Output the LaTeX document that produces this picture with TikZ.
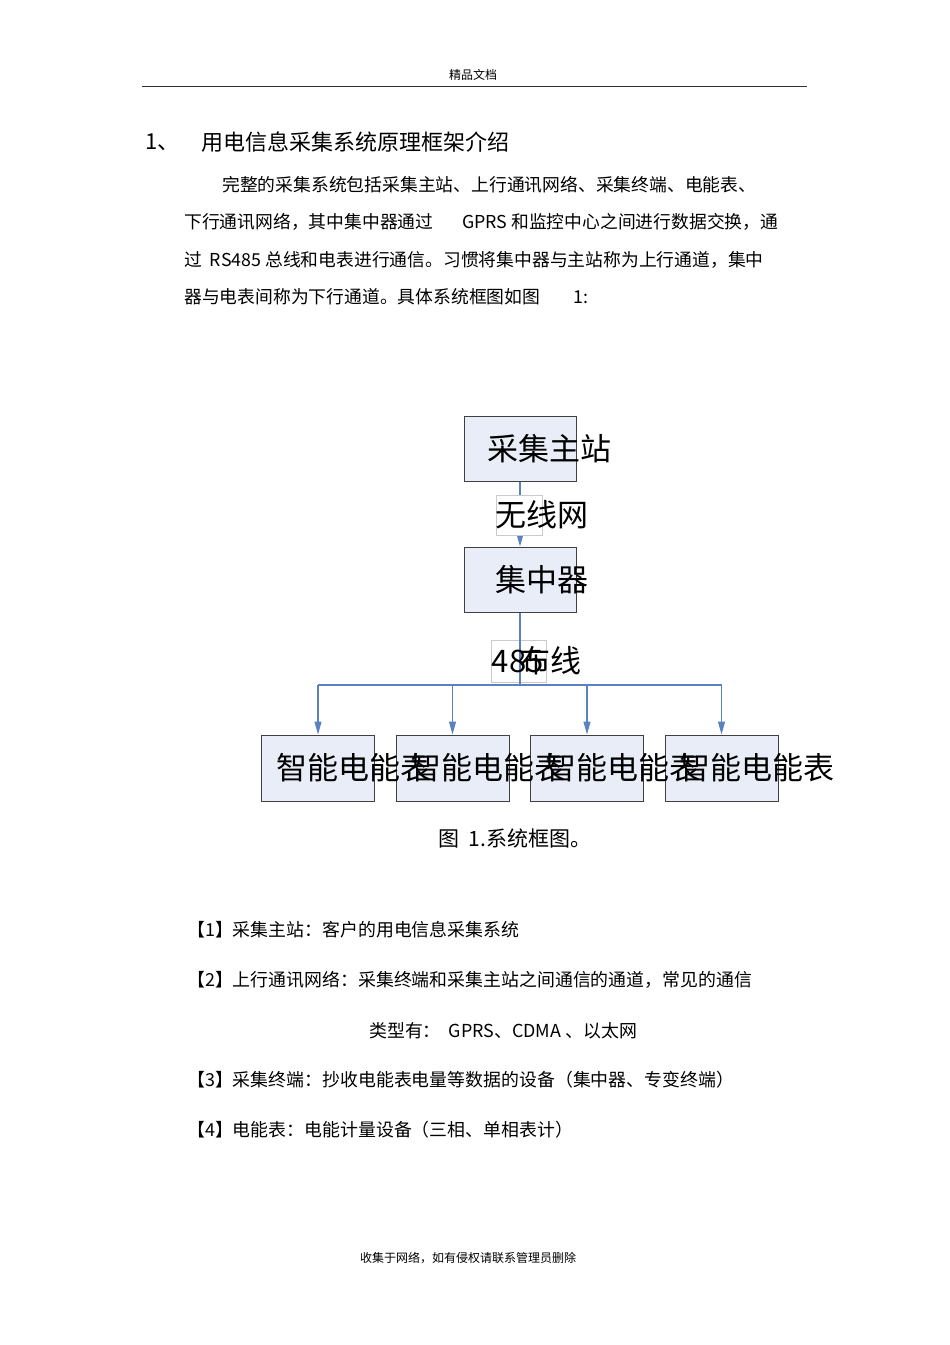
\documentclass[tikz,border=0pt]{standalone}
\usepackage{fontspec}
\setmainfont{Noto Sans CJK SC}
\usetikzlibrary{arrows.meta,positioning}
\definecolor{boxfill}{HTML}{E9EDF7}
\definecolor{boxline}{HTML}{404040}
\definecolor{linkblue}{HTML}{5B82C0}
\definecolor{tagline}{HTML}{CACACA}
\tikzset{
        blk_box/.style={draw=boxline, fill=boxfill, line width=1pt,
                        minimum width=112pt, minimum height=65pt, inner sep=0pt},
        blk_text/.style={anchor=west, inner sep=0pt, font=\fontsize{31}{31}\selectfont},
        tag_box/.style={draw=tagline, line width=0.6pt, minimum width=46pt,
                        minimum height=40pt, inner sep=0pt},
        link/.style={draw=linkblue, line width=1.2pt},
        link_arr/.style={link, -{Triangle[width=7pt,length=13pt]}},
        body_text/.style={anchor=west, inner sep=0pt, font=\fontsize{17.8}{18}\selectfont},
        list_text/.style={anchor=west, inner sep=0pt, font=\fontsize{17.9}{18}\selectfont},
        small_text/.style={inner sep=0pt, font=\fontsize{12}{12}\selectfont}
    }

\begin{document}
\begin{tikzpicture}[x=1pt, y=-1pt]
    \useasboundingbox[fill=white] (0,0) rectangle (950,1345);
    % page header
    \node[small_text] (hdr) at (473,75) {精品文档};
    \draw[line width=1pt, black!80] (142,86) -- (807,86);
    % heading and text
    \node[body_text, font=\fontsize{22}{22}\selectfont] (num) at (145,142) {1、};
    \node[body_text, font=\fontsize{22}{22}\selectfont] (title) at (201,142) {用电信息采集系统原理框架介绍};
    \node[body_text] (p1) at (222,185) {完整的采集系统包括采集主站、上行通讯网络、采集终端、电能表、};
    \node[body_text] (p2a) at (184,222) {下行通讯网络，其中集中器通过};
    \node[body_text] (p2b) at (462,222) {GPRS 和监控中心之间进行数据交换，通};
    \node[body_text] (p3) at (184,260) {过\ \ RS485 总线和电表进行通信。习惯将集中器与主站称为上行通道，集中};
    \node[body_text] (p4a) at (184,297) {器与电表间称为下行通道。具体系统框图如图};
    \node[body_text] (p4b) at (573,297) {1:};
    % diagram
    \node[blk_box] (zz) at (520,448.5) {};
    \node[blk_box] (jzq) at (520,579.5) {};
    \foreach \i/\x in {1/318,2/452.5,3/587,4/721.5}
        \node[blk_box, minimum width=113pt, minimum height=66pt] (m\i) at (\x,768) {};
    \draw[link_arr] (zz.south) -- (jzq.north);
    \node[tag_box, fill=white] (wx) at (519,515) {};
    \node[tag_box, minimum width=55pt, minimum height=42pt] (bx) at (518.5,661) {};
    \coordinate (bus) at (520,685);
    \draw[link] (jzq.south) -- (bus);
    \draw[link] (bus -| m1) -- (bus -| m4);
    \foreach \i in {1,...,4}
        \draw[link_arr] (bus -| m\i) -- (m\i.north);
    \node[blk_text] (zz_t) at ([xshift=24pt]zz.west) {采集主站};
    \node[blk_text] (jzq_t) at ([xshift=32pt]jzq.west) {集中器};
    \node[blk_text] (wx_t) at ([xshift=0pt]wx.west) {无线网};
    \node[blk_text] (bx_t) at ([xshift=1pt]bx.west) {485\kern-24pt 布线};
    \foreach \i in {1,...,4}
        \node[blk_text] (m\i_t) at ([xshift=15pt]m\i.west) {智能电能表};
    \node[body_text, font=\fontsize{21}{21}\selectfont] (cap) at (438,838) {图\ \ 1.系统框图。};
    % notes
    \node[list_text] (it1) at (187,930) {【1】采集主站：客户的用电信息采集系统};
    \node[list_text] (it2) at (187,980) {【2】上行通讯网络：采集终端和采集主站之间通信的通道，常见的通信};
    \node[list_text] (it2b) at (369,1031) {类型有：\ \ GPRS、CDMA\ 、以太网};
    \node[list_text] (it3) at (187,1080) {【3】采集终端：抄收电能表电量等数据的设备（集中器、专变终端）};
    \node[list_text] (it4) at (187,1130) {【4】电能表：电能计量设备（三相、单相表计）};
    % page footer
    \node[small_text] (ftr) at (468,1258) {收集于网络，如有侵权请联系管理员删除};
\end{tikzpicture}
\end{document}
